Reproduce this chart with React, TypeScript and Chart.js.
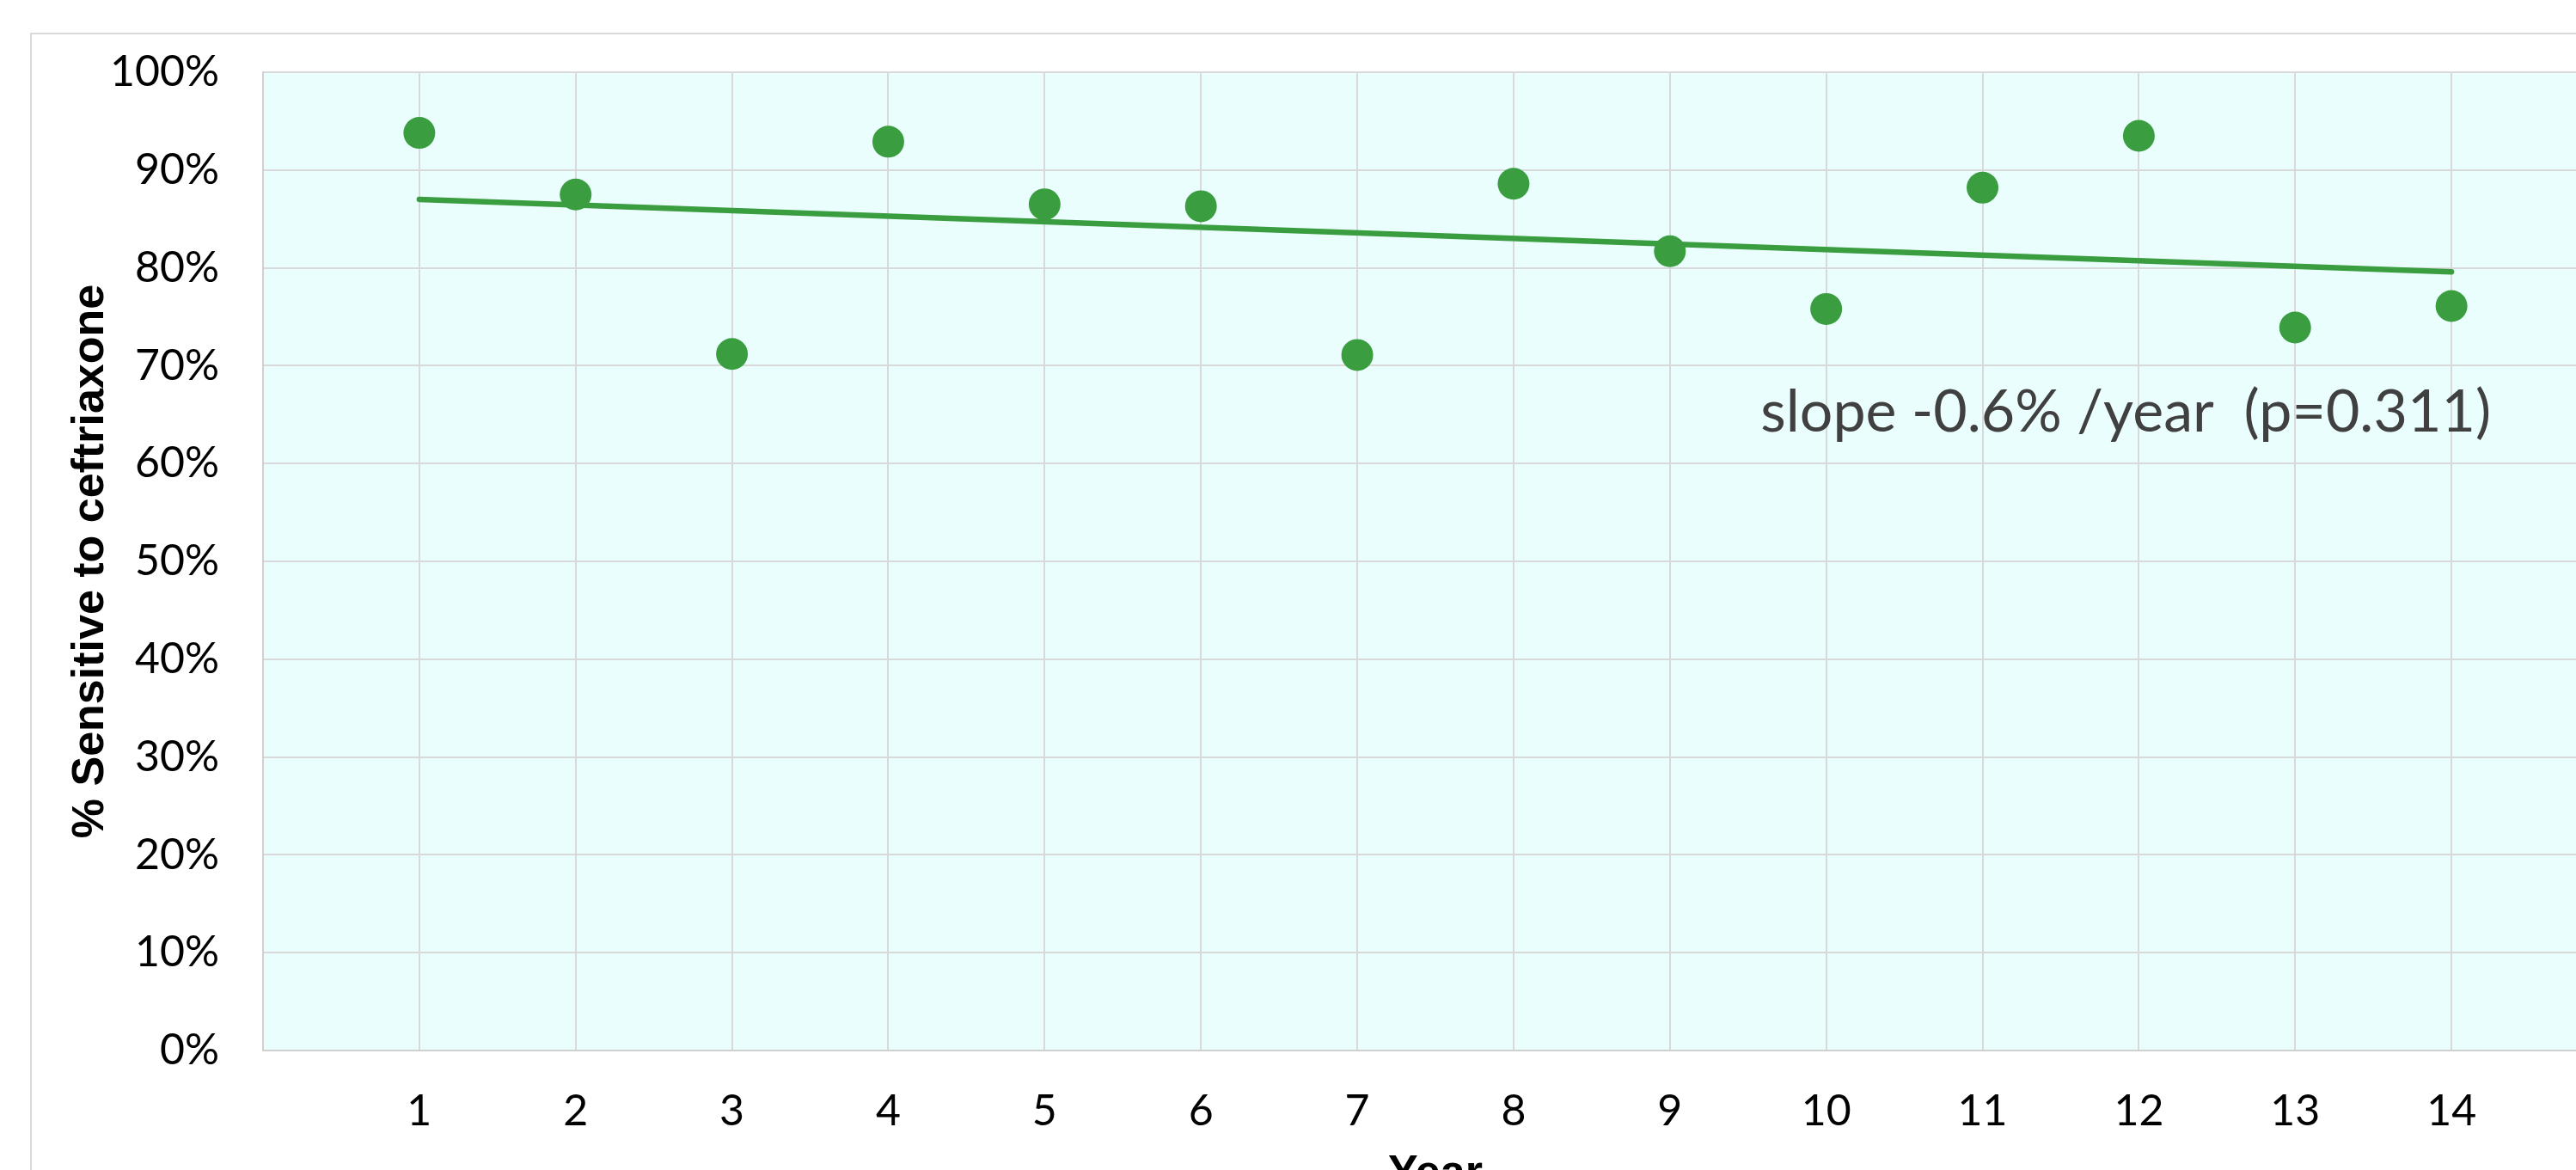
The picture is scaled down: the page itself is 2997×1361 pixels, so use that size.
import React, { useEffect, useRef } from 'react';
import { Chart, registerables } from 'chart.js';

Chart.register(...registerables);

// ---- data ----
const years = [1, 2, 3, 4, 5, 6, 7, 8, 9, 10, 11, 12, 13, 14];
const sensitivity = [93.8, 87.5, 71.2, 92.9, 86.5, 86.3, 71.1, 88.6, 81.7, 75.8, 88.2, 93.5, 73.9, 76.1];
const trendYears = [1, 14];
const trendValues = [87.0, 79.6];
const yTickValues = [0, 10, 20, 30, 40, 50, 60, 70, 80, 90, 100];
const annotationText = 'slope -0.6% /year  (p=0.311)';
const yTitle = '% Sensitive to ceftriaxone';
const xTitle = 'Year';

const GREEN = '#3A9E40';
const GRID = '#D9D9D9';

const CANVAS_W = 3100;
const CANVAS_H = 1450;

export default function App() {
  const ref = useRef<HTMLCanvasElement | null>(null);

  useEffect(() => {
    const canvas = ref.current;
    if (!canvas) return;

    const bgPlugin = {
      id: 'bgPlugin',
      beforeDraw(chart: any) {
        const { ctx, chartArea } = chart;
        ctx.save();
        ctx.fillStyle = '#FFFFFF';
        ctx.fillRect(0, 0, chart.width, chart.height);
        ctx.strokeStyle = GRID;
        ctx.lineWidth = 2;
        ctx.strokeRect(36, 39, 6000, 6000);
        ctx.fillStyle = '#EBFEFE';
        ctx.fillRect(chartArea.left, chartArea.top, chartArea.right - chartArea.left, chartArea.bottom - chartArea.top);
        ctx.restore();
      },
      afterDatasetsDraw(chart: any) {
        const { ctx } = chart;
        const xs = chart.scales.x;
        const ys = chart.scales.y;
        const x = xs.getPixelForValue(9.58);
        const y = ys.getPixelForValue(63.3);
        ctx.save();
        let size = 70;
        ctx.font = `${size}px Lato`;
        const w = ctx.measureText(annotationText).width;
        size = size * 850 / w;
        ctx.font = `${size}px Lato`;
        ctx.fillStyle = '#404040';
        ctx.textAlign = 'left';
        ctx.textBaseline = 'alphabetic';
        ctx.fillText(annotationText, x, y);
        ctx.restore();
      },
    };

    const chart = new Chart(canvas, {
      type: 'scatter',
      data: {
        datasets: [
          {
            label: 'Sensitivity',
            data: years.map((yr, i) => ({ x: yr, y: sensitivity[i] })),
            backgroundColor: GREEN,
            borderColor: GREEN,
            borderWidth: 0,
            pointRadius: 18.5,
            pointHoverRadius: 18.5,
            showLine: false,
          },
          {
            label: 'Trend',
            data: trendYears.map((yr, i) => ({ x: yr, y: trendValues[i] })),
            borderColor: GREEN,
            backgroundColor: GREEN,
            borderWidth: 6.5,
            borderCapStyle: 'round',
            pointRadius: 0,
            showLine: true,
            fill: false,
          } as any,
        ],
      },
      options: {
        responsive: false,
        animation: false,
        devicePixelRatio: 1,
        layout: { padding: { left: 0, top: 84, right: CANVAS_W - 3034, bottom: 0 } },
        plugins: {
          legend: { display: false },
          tooltip: { enabled: false },
        },
        scales: {
          x: {
            type: 'linear',
            min: 0,
            max: 15,
            afterFit(scale: any) {
              scale.height = CANVAS_H - 1222;
            },
            afterBuildTicks(scale: any) {
              const t = [{ value: 0 }];
              years.forEach((v) => t.push({ value: v }));
              t.push({ value: 15 });
              scale.ticks = t;
            },
            ticks: {
              autoSkip: false,
              maxRotation: 0,
              padding: 41,
              color: '#000000',
              font: { family: 'Lato', size: 50 },
              callback: (v: any) => (years.includes(Number(v)) ? String(v) : ''),
            },
            grid: { color: GRID, lineWidth: 2, drawTicks: false },
            border: { color: '#D0D0D0', width: 2 },
            title: {
              display: true,
              text: xTitle,
              color: '#000000',
              font: { family: 'Liberation Sans', size: 52, weight: 'bold' },
              padding: { top: 0, bottom: 53 },
            },
          },
          y: {
            type: 'linear',
            min: 0,
            max: 100,
            afterFit(scale: any) {
              scale.width = 306;
            },
            afterBuildTicks(scale: any) {
              scale.ticks = yTickValues.map((v) => ({ value: v }));
            },
            ticks: {
              padding: 51,
              color: '#000000',
              font: { family: 'Lato', size: 50 },
              callback: (v: any) => `${v}%`,
            },
            grid: { color: GRID, lineWidth: 2, drawTicks: false },
            border: { color: '#D0D0D0', width: 2 },
            title: {
              display: true,
              text: yTitle,
              color: '#000000',
              font: { family: 'Liberation Sans', size: 52, weight: 'bold' },
              padding: { top: 74, bottom: 0 },
            },
          },
        },
      },
      plugins: [bgPlugin],
    } as any);

    return () => {
      chart.destroy();
    };
  }, []);

  return (
    <div
      style={{
        position: 'fixed',
        left: 0,
        top: 0,
        width: 2997,
        height: 1361,
        overflow: 'hidden',
        background: '#FFFFFF',
      }}
    >
      <canvas
        ref={ref}
        width={CANVAS_W}
        height={CANVAS_H}
        style={{ width: CANVAS_W, height: CANVAS_H, display: 'block' }}
      />
    </div>
  );
}
